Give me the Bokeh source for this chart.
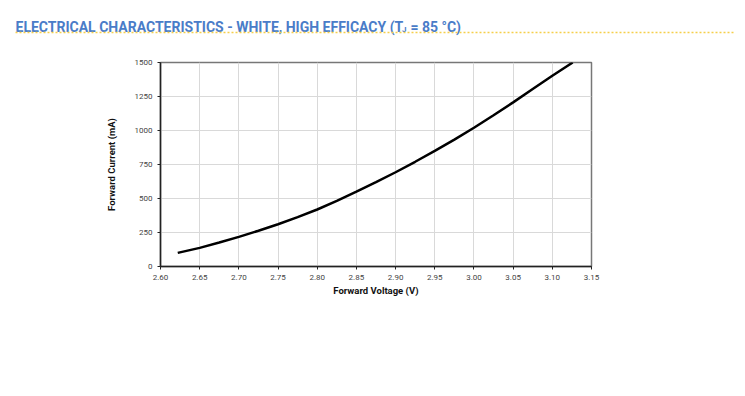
from bokeh.plotting import figure
from bokeh.layouts import column
from bokeh.models import Range1d, FixedTicker, NumeralTickFormatter
from bokeh.core.properties import value
from bokeh.embed import file_html
from bokeh.resources import INLINE

# Data
voltage = [2.622, 2.65, 2.675, 2.70, 2.725, 2.75, 2.775, 2.80, 2.825, 2.85, 2.875,
           2.90, 2.925, 2.95, 2.975, 3.00, 3.025, 3.05, 3.075, 3.10, 3.126]
current = [100, 137, 176, 218, 263, 311, 363, 419, 482, 550, 620,
           693, 770, 850, 933, 1020, 1112, 1207, 1305, 1403, 1500]
x_ticks = [2.60, 2.65, 2.70, 2.75, 2.80, 2.85, 2.90, 2.95, 3.00, 3.05, 3.10, 3.15]
y_ticks = [0, 250, 500, 750, 1000, 1250, 1500]
title_main = "ELECTRICAL CHARACTERISTICS - WHITE, HIGH EFFICACY (T"
title_sub = "J"
title_end = "= 85 °C)"

W = 745
TITLE_COLOR = "#4a7cc8"

# Header figure (pixel coordinates)
h = figure(width=W, height=38, x_range=Range1d(0, W), y_range=Range1d(38, 0),
           output_backend="svg", toolbar_location=None, min_border=0)
h.frame_align = False
h.axis.visible = False
h.grid.visible = False
h.outline_line_color = None
h.text(x=[15], y=[26], text=[title_main], text_font=value("Roboto"), text_font_style="bold",
       text_font_size="14px", text_color=TITLE_COLOR, text_baseline="alphabetic", text_align="left")
h.text(x=[401.5], y=[29], text=[title_sub], text_font=value("Roboto"), text_font_style="bold",
       text_font_size="8px", text_color=TITLE_COLOR, text_baseline="alphabetic", text_align="left")
h.text(x=[410], y=[26], text=[title_end], text_font=value("Roboto"), text_font_style="bold",
       text_font_size="14px", text_color=TITLE_COLOR, text_baseline="alphabetic", text_align="left")
h.line(x=[15, 735], y=[32, 32], line_color="#f5cf4a", line_width=1.5, line_dash="2 2")

# Main chart
p = figure(width=W, height=270, x_range=Range1d(2.60, 3.15), y_range=Range1d(0, 1500),
           output_backend="svg", toolbar_location=None,
           min_border_left=160, min_border_right=154, min_border_top=24, min_border_bottom=42)
p.frame_align = False
p.line(voltage, current, line_color="black", line_width=2.5)

p.xaxis.ticker = FixedTicker(ticks=x_ticks)
p.yaxis.ticker = FixedTicker(ticks=y_ticks)
p.xaxis.formatter = NumeralTickFormatter(format="0.00")
p.xaxis.axis_label = "Forward Voltage (V)"
p.yaxis.axis_label = "Forward Current (mA)"
for ax in (p.xaxis, p.yaxis):
    ax.axis_label_text_font = "Roboto"
    ax.axis_label_text_font_style = "bold"
    ax.axis_label_text_font_size = "9.5px"
    ax.axis_label_text_color = "#111111"
    ax.major_label_text_font = "Roboto"
    ax.major_label_text_font_size = "8px"
    ax.major_label_text_color = "#444444"
    ax.axis_line_color = "#222222"
    ax.axis_line_width = 1.5
    ax.major_tick_line_color = "#222222"
    ax.major_tick_in = 0
    ax.major_tick_out = 3
    ax.minor_tick_line_color = None
p.xaxis.axis_label_standoff = 2
p.yaxis.axis_label_standoff = 15
p.grid.grid_line_color = "#d9d9d9"
p.grid.grid_line_width = 1
p.outline_line_color = "#777777"
p.outline_line_width = 1.5

layout = column(h, p, spacing=0)
open("out.html", "w").write(file_html(layout, INLINE))
